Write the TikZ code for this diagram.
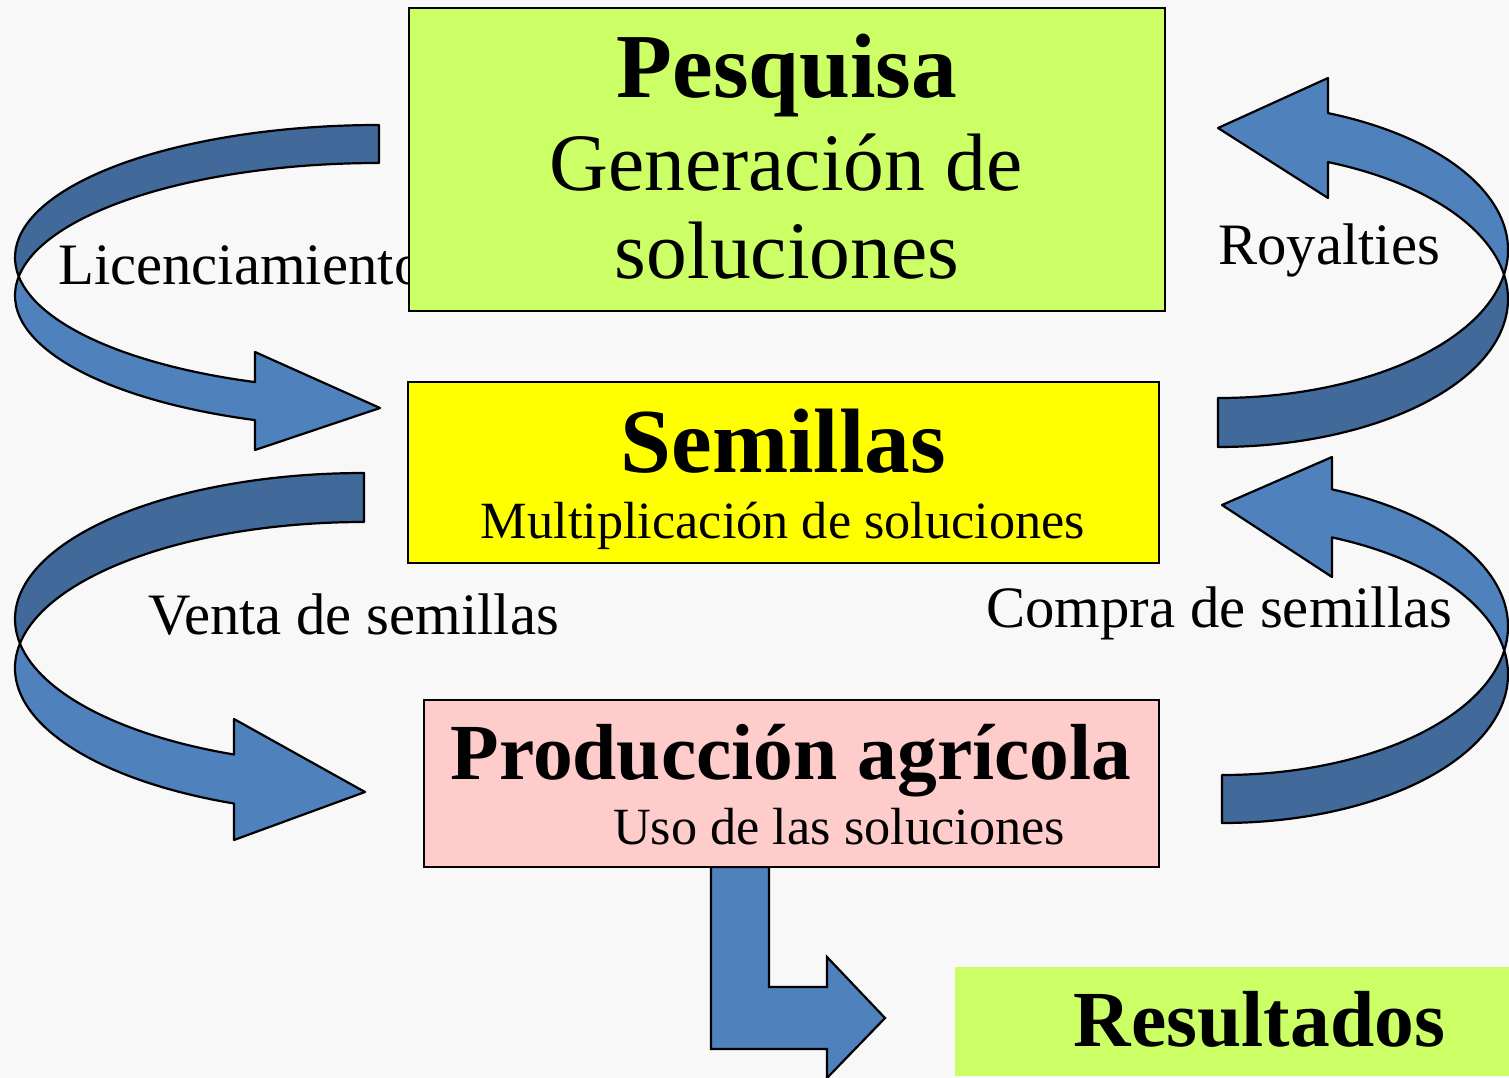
\documentclass[tikz,border=0pt]{standalone}
\usepackage{fontspec}
\setmainfont{Liberation Serif}

\definecolor{bgcolor}{rgb}{0.973, 0.973, 0.973}
\definecolor{greenbox}{rgb}{0.800, 1.000, 0.400}
\definecolor{yellowbox}{rgb}{1.000, 1.000, 0.000}
\definecolor{pinkbox}{rgb}{1.000, 0.800, 0.800}
\definecolor{arrowlight}{rgb}{0.310, 0.506, 0.741}
\definecolor{arrowdark}{rgb}{0.255, 0.412, 0.604}

\tikzset{
  box/.style={draw=black, line width=2.3pt, inner sep=0pt, outer sep=0pt},
  flatbox/.style={inner sep=0pt, outer sep=0pt},
  bandlight/.style={fill=arrowlight, draw=black, line width=2.2pt, line join=round},
  banddark/.style={fill=arrowdark, draw=black, line width=2.2pt, line join=round},
  bigtitle/.style={anchor=base, inner sep=0pt, font=\bfseries\fontsize{91.5}{96}\selectfont},
  midtitle/.style={anchor=base, inner sep=0pt, font=\bfseries\fontsize{79.5}{84}\selectfont},
  bigline/.style={anchor=base, inner sep=0pt, font=\fontsize{81.5}{86}\selectfont},
  subline/.style={anchor=base, inner sep=0pt, font=\fontsize{52.3}{56}\selectfont},
  flowlabel/.style={anchor=base west, inner sep=0pt, font=\fontsize{58.7}{62}\selectfont}
}

\begin{document}
\begin{tikzpicture}[x=1pt, y=-1pt]
\useasboundingbox (0,0) rectangle (1509,1078);
\fill[bgcolor] (0,0) rectangle (1509,1078);

% Licenciamiento: Pesquisa -> Semillas (two equal ellipses, 38 apart)
\draw[bandlight] (255,382.1) arc[start angle=109.92, end angle=171.755, x radius=364, y radius=132.5]
  arc[start angle=188.245, end angle=109.92, x radius=364, y radius=132.5]
  -- (255,450) -- (380,408) -- (255,352) -- cycle;
\draw[banddark] (379,125) arc[start angle=270, end angle=171.755, x radius=364, y radius=132.5]
  arc[start angle=188.245, end angle=270, x radius=364, y radius=132.5] -- cycle;

% Venta de semillas: Semillas -> Produccion
\draw[bandlight] (234,754.5) arc[start angle=111.87, end angle=170.339, x radius=349, y radius=146]
  arc[start angle=189.661, end angle=111.87, x radius=349, y radius=146]
  -- (234,840) -- (365,792) -- (234,719) -- cycle;
\draw[banddark] (364,473) arc[start angle=270, end angle=170.339, x radius=349, y radius=146]
  arc[start angle=189.661, end angle=270, x radius=349, y radius=146] -- cycle;

% Royalties: Semillas -> Pesquisa
\draw[bandlight] (1328,113.1) arc[start angle=-67.71, end angle=9.528, x radius=290, y radius=148]
  arc[start angle=-9.528, end angle=-67.71, x radius=290, y radius=148]
  -- (1328,198) -- (1218,128) -- (1328,78) -- cycle;
\draw[banddark] (1218,447) arc[start angle=90, end angle=-9.528, x radius=290, y radius=148]
  arc[start angle=9.528, end angle=90, x radius=290, y radius=148] -- cycle;

% Compra de semillas: Produccion -> Semillas
\draw[bandlight] (1332,489.4) arc[start angle=-67.38, end angle=9.301, x radius=286, y radius=148.5]
  arc[start angle=-9.301, end angle=-67.38, x radius=286, y radius=148.5]
  -- (1332,577) -- (1222,505) -- (1332,457) -- cycle;
\draw[banddark] (1222,823) arc[start angle=90, end angle=-9.301, x radius=286, y radius=148.5]
  arc[start angle=9.301, end angle=90, x radius=286, y radius=148.5] -- cycle;

% bent arrow down to Resultados
\draw[bandlight, line join=miter] (711,867) -- (769,867) -- (769,987) -- (827,987) -- (827,957)
  -- (885,1018) -- (827,1078) -- (827,1049) -- (711,1049) -- cycle;

% labels on the loops
\node[flowlabel] (lic) at (58,284) {Licenciamiento};
\node[flowlabel] (roy) at (1218,264) {Royalties};
\node[flowlabel] (venta) at (148,634) {Venta de semillas};
\node[flowlabel] (compra) at (986,627) {Compra de semillas};

% boxes
\node[box, fill=greenbox, minimum width=756pt, minimum height=303pt] (pesq) at (787,159.5) {};
\node[box, fill=yellowbox, minimum width=751pt, minimum height=181pt] (sem) at (783.5,472.5) {};
\node[box, fill=pinkbox, minimum width=735pt, minimum height=167pt] (prod) at (791.5,783.5) {};
\node[flatbox, fill=greenbox, minimum width=554pt, minimum height=109pt] (res) at (1232,1021.5) {};

% box texts
\node[bigtitle] (pesqtitle) at (787,98) {Pesquisa};
\node[bigline] (pesqline1) at (786,190) {Generaci\'on de};
\node[bigline] (pesqline2) at (787,278) {soluciones};
\node[bigtitle] (semtitle) at (783.5,472) {Semillas};
\node[subline] (semline) at (783,538) {Multiplicaci\'on de soluciones};
\node[midtitle] (prodtitle) at (791,779) {Producci\'on agr\'{\i}cola};
\node[subline] (prodline) at (839,844) {Uso de las soluciones};
\node[midtitle] (restitle) at (1259.5,1046) {Resultados};
\end{tikzpicture}
\end{document}
